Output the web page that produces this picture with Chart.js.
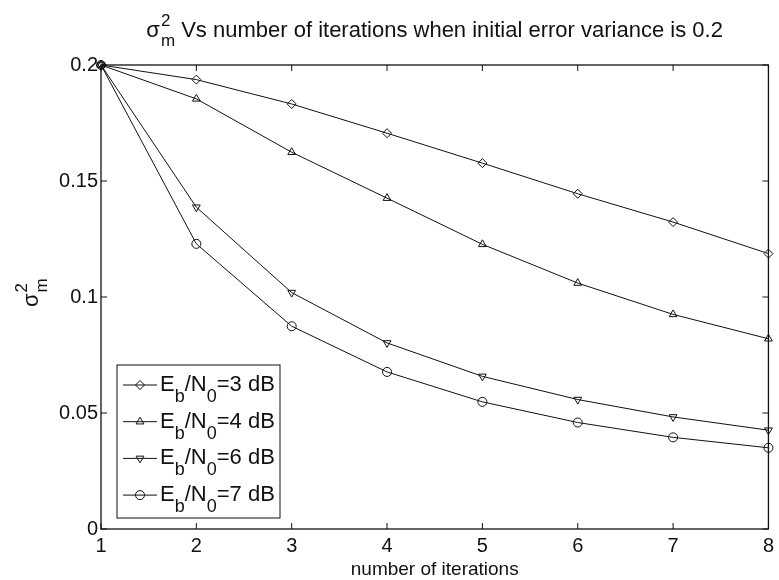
<!DOCTYPE html>
<html>
<head>
<meta charset="utf-8">
<script src="https://cdn.jsdelivr.net/npm/chart.js@4.4.1/dist/chart.umd.min.js"></script>
<style>
  body { margin: 0; background: #fff; }
  #wrap { width: 779px; height: 580px; }
</style>
</head>
<body>
<div id="wrap"><canvas id="graph" width="779" height="580"></canvas></div>
<script>
// iterations on the x axis
let iterations = [1, 2, 3, 4, 5, 6, 7, 8];

// sigma_m^2 for each Eb/N0
let snr3 = [0.2, 0.1937, 0.1832, 0.1706, 0.1577, 0.1445, 0.1323, 0.1187];
let snr4 = [0.2, 0.1854, 0.1624, 0.1426, 0.1227, 0.1060, 0.0925, 0.0820];
let snr6 = [0.2, 0.1387, 0.1019, 0.0802, 0.0658, 0.0558, 0.0483, 0.0426];
let snr7 = [0.2, 0.1229, 0.0874, 0.0677, 0.0548, 0.0459, 0.0395, 0.0350];

let snrLabels = ["3", "4", "6", "7"];
let yTicks = [0, 0.05, 0.1, 0.15, 0.2];
let yTickLabels = ["0", "0.05", "0.1", "0.15", "0.2"];

const FONT = "'Liberation Sans', Arial, Helvetica, sans-serif";
const INK = "#111";

function toPoints(values){
    let pts = [];
    for(let i = 0; i < iterations.length; i++){
        pts.push({x: iterations[i], y: values[i]});
    }
    return pts;
}

function makeSet(label, values, style, rotation){
    return {
        label: label,
        data: toPoints(values),
        borderColor: INK,
        borderWidth: 1,
        pointStyle: style,
        pointRotation: rotation,
        pointRadius: 4.5,
        pointBorderWidth: 1,
        pointBorderColor: INK,
        pointBackgroundColor: "rgba(0,0,0,0)",
        fill: false,
        tension: 0,
        clip: false
    };
}

let sets = [
    makeSet("3", snr3, "rectRot", 0),
    makeSet("4", snr4, "triangle", 0),
    makeSet("6", snr6, "triangle", 180),
    makeSet("7", snr7, "circle", 0)
];

// sigma with superscript 2 and subscript m stacked after it
function drawSigma(ctx, x, y, size){
    ctx.font = size + "px " + FONT;
    ctx.fillText("\u03c3", x, y);
    let w = ctx.measureText("\u03c3").width;
    let small = Math.round(size * 0.75);
    ctx.font = small + "px " + FONT;
    ctx.fillText("2", x + w + 1, y - size * 0.48);
    ctx.fillText("m", x + w + 1, y + size * 0.42);
    return w + 1 + Math.max(ctx.measureText("2").width, ctx.measureText("m").width);
}

function drawSnr(ctx, x, y, snr){
    let big = "22px " + FONT, small = "18px " + FONT;
    let parts = [["E", big, 0], ["b", small, 11], ["/N", big, 0], ["0", small, 11], ["=" + snr + " dB", big, 0]];
    for(let p of parts){
        ctx.font = p[1];
        ctx.fillText(p[0], x, y + p[2]);
        x += ctx.measureText(p[0]).width;
    }
}

const matlabFrame = {
    id: "matlabFrame",
    afterDraw(chart){
        let ctx = chart.ctx;
        let a = chart.chartArea;
        let xs = chart.scales.x, ys = chart.scales.y;
        ctx.save();
        ctx.strokeStyle = INK;
        ctx.fillStyle = INK;

        // box
        ctx.lineWidth = 1.3;
        ctx.strokeRect(a.left, a.top, a.right - a.left, a.bottom - a.top);

        // inward ticks on all four sides
        ctx.lineWidth = 1;
        ctx.beginPath();
        for(let v of iterations){
            let px = xs.getPixelForValue(v);
            ctx.moveTo(px, a.bottom); ctx.lineTo(px, a.bottom - 6);
            ctx.moveTo(px, a.top); ctx.lineTo(px, a.top + 6);
        }
        for(let v of yTicks){
            let py = ys.getPixelForValue(v);
            ctx.moveTo(a.left, py); ctx.lineTo(a.left + 6, py);
            ctx.moveTo(a.right, py); ctx.lineTo(a.right - 6, py);
        }
        ctx.stroke();

        // title
        ctx.textBaseline = "alphabetic";
        ctx.textAlign = "left";
        let rest = " Vs number of iterations when initial error variance is 0.2";
        ctx.font = "22px " + FONT;
        let restW = ctx.measureText(rest).width;
        let sigW = ctx.measureText("\u03c3").width + 1 + 16 * 0.9;
        let cx = (a.left + a.right) / 2;
        let tx = cx - (sigW + restW) / 2;
        let sw = drawSigma(ctx, tx, 37, 22);
        ctx.font = "22px " + FONT;
        ctx.fillText(rest, tx + sw, 37);

        // x axis title
        ctx.textAlign = "center";
        ctx.font = "19px " + FONT;
        ctx.fillText("number of iterations", cx, 575);

        // y axis title, rotated
        ctx.save();
        ctx.translate(38, (a.top + a.bottom) / 2 + 10);
        ctx.rotate(-Math.PI / 2);
        ctx.textAlign = "left";
        drawSigma(ctx, 0, 0, 22);
        ctx.restore();

        // legend
        let lx = a.left + 16, lb = a.bottom - 11;
        let rowH = 36.7, boxW = 163, boxH = 153;
        let ly = lb - boxH;
        ctx.fillStyle = "#fff";
        ctx.fillRect(lx, ly, boxW, boxH);
        ctx.lineWidth = 1;
        ctx.strokeRect(lx, ly, boxW, boxH);
        ctx.textAlign = "left";
        for(let i = 0; i < sets.length; i++){
            let ry = ly + 20 + i * rowH;
            ctx.beginPath();
            ctx.moveTo(lx + 6, ry);
            ctx.lineTo(lx + 40, ry);
            ctx.stroke();
            ctx.fillStyle = "rgba(0,0,0,0)";
            Chart.helpers.drawPoint(ctx, {
                pointStyle: sets[i].pointStyle,
                rotation: sets[i].pointRotation,
                radius: 4.5,
                borderWidth: 1
            }, lx + 23, ry);
            ctx.fillStyle = INK;
            drawSnr(ctx, lx + 43, ry + 6, snrLabels[i]);
        }
        ctx.restore();
    }
};

let config = {
    type: "line",
    data: { datasets: sets },
    options: {
        responsive: false,
        animation: false,
        devicePixelRatio: 1,
        layout: { padding: { top: 65, right: 6, left: 0, bottom: 0 } },
        plugins: {
            legend: { display: false },
            title: { display: false },
            tooltip: { enabled: false }
        },
        scales: {
            x: {
                type: "linear",
                min: 1,
                max: 8,
                offset: false,
                afterFit: (s) => { s.height = 51; },
                grid: { display: false, drawTicks: false },
                border: { display: false },
                ticks: {
                    stepSize: 1,
                    padding: 5,
                    color: INK,
                    font: { family: FONT, size: 20 }
                }
            },
            y: {
                type: "linear",
                min: 0,
                max: 0.2,
                afterFit: (s) => { s.width = 101; },
                afterBuildTicks: (s) => { s.ticks = yTicks.map(v => ({value: v})); },
                grid: { display: false, drawTicks: false },
                border: { display: false },
                ticks: {
                    padding: 3,
                    color: INK,
                    font: { family: FONT, size: 20 },
                    callback: (v) => yTickLabels[yTicks.indexOf(v)]
                }
            }
        }
    },
    plugins: [matlabFrame]
};

let myChart = new Chart(document.getElementById("graph"), config);
</script>
</body>
</html>
